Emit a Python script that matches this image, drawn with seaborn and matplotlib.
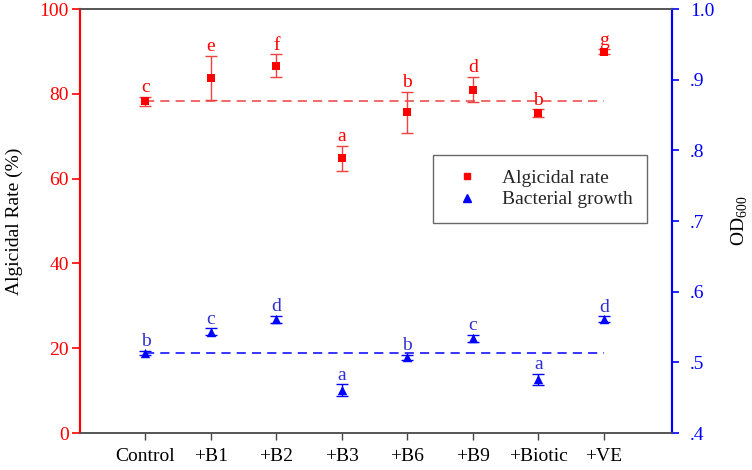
import numpy as np
import pandas as pd
import matplotlib
matplotlib.use("Agg")
import matplotlib.pyplot as plt
import seaborn as sns

# data
treatments = ["Control", "+B1", "+B2", "+B3", "+B6", "+B9", "+Biotic", "+VE"]
algicidal = [78.2, 83.7, 86.6, 64.8, 75.6, 81.0, 75.4, 89.9]
algicidal_err = [1.1, 5.2, 2.7, 2.9, 4.8, 3.0, 0.9, 0.6]
algicidal_letters = ["c", "e", "f", "a", "b", "d", "b", "g"]
od600 = [0.513, 0.543, 0.561, 0.461, 0.507, 0.534, 0.476, 0.561]
od600_err = [0.003, 0.005, 0.005, 0.008, 0.004, 0.005, 0.008, 0.004]
od600_letters = ["b", "c", "d", "a", "b", "c", "a", "d"]

RED = "#ff0000"
BLUE = "#0000ff"
FS = 14

sns.set_style("ticks")
plt.rcParams["font.family"] = ["Liberation Serif", "DejaVu Serif"]
plt.rcParams["font.size"] = FS
plt.rcParams["mathtext.fontset"] = "custom"
plt.rcParams["mathtext.rm"] = "Liberation Serif"

pos = np.arange(1, len(treatments) + 1)
df = pd.DataFrame({"x": pos, "rate": algicidal, "rate_err": algicidal_err,
                   "od": od600, "od_err": od600_err})

fig = plt.figure(figsize=(7.52, 4.7), dpi=100)
ax = fig.add_axes([80 / 752, 37 / 470, 592 / 752, 424 / 470])
ax2 = ax.twinx()

# algicidal rate (left axis)
ax.errorbar(df["x"], df["rate"], yerr=df["rate_err"], fmt="none",
            ecolor="#f04040", elinewidth=1, capsize=4.5, capthick=1, zorder=2)
sns.scatterplot(data=df, x="x", y="rate", ax=ax, marker="s", s=40,
                color=RED, edgecolor=RED, linewidth=0, zorder=3)
ax.hlines(algicidal[0], pos[0], pos[-1], colors="#f04040", linestyles=(0, (6, 4)),
          linewidth=1.1, zorder=1)
for x, y, e, t in zip(pos, algicidal, algicidal_err, algicidal_letters):
    ax.annotate(t, (x, y + e), xytext=(0, 0.5), textcoords="offset points",
                ha="center", va="bottom", color=RED, fontsize=FS)

# bacterial growth (right axis)
ax2.errorbar(df["x"], df["od"], yerr=df["od_err"], fmt="none",
             ecolor=BLUE, elinewidth=1, capsize=4.5, capthick=1, zorder=2)
sns.scatterplot(data=df, x="x", y="od", ax=ax2, marker="^", s=46,
                color=BLUE, edgecolor=BLUE, linewidth=0, zorder=3)
ax2.hlines(od600[0], pos[0], pos[-1], colors=BLUE, linestyles=(0, (6, 4)),
           linewidth=1.1, zorder=1)
for x, y, e, t in zip(pos, od600, od600_err, od600_letters):
    ax2.annotate(t, (x, y + e), xytext=(0, 0.5), textcoords="offset points",
                 ha="center", va="bottom", color="#3030d0", fontsize=FS)

# axes styling
ax.set_xlim(0, 9.04)
ax.set_ylim(0, 100)
ax2.set_ylim(0.4, 1.0)
ax.set_xticks(pos)
ax.set_xticklabels(treatments, fontsize=FS)
ax.set_yticks(np.arange(0, 101, 20))
ax.tick_params(axis="y", colors=RED, labelsize=FS, length=6, width=1.2, pad=2)
ax.tick_params(axis="x", colors="#444444", labelcolor="black", length=5, width=1, pad=6)
ax.set_xlabel("")
ax.set_ylabel("Algicidal Rate (%)", fontsize=FS, color="black", labelpad=12)

od_ticks = np.round(np.arange(0.4, 1.01, 0.1), 1)
ax2.set_yticks(od_ticks)
ax2.set_yticklabels([f"{v:.1f}" if v >= 1 else f"{v:.1f}"[1:] for v in od_ticks])
ax2.tick_params(axis="y", colors=BLUE, labelsize=FS, length=5, width=1.2, pad=8)
ax2.set_ylabel("OD$_{600}$", fontsize=FS, color="black", labelpad=11)

for a in (ax, ax2):
    a.spines["top"].set_visible(True)
    a.spines["top"].set_color("#555555")
    a.spines["bottom"].set_color("#555555")
    a.spines["left"].set_color(RED)
    a.spines["right"].set_color(BLUE)
    a.spines["left"].set_linewidth(1.5)
    a.spines["right"].set_linewidth(1.5)
    a.spines["top"].set_linewidth(1.2)
    a.spines["bottom"].set_linewidth(1.2)
    a.set_xlabel("")

# legend
handles = [
    plt.Line2D([], [], marker="s", color=RED, linestyle="none", markersize=5),
    plt.Line2D([], [], marker="^", color=BLUE, linestyle="none", markersize=5.5),
]
leg = ax2.legend(handles, ["Algicidal rate", "Bacterial growth"],
                 loc="upper left", bbox_to_anchor=(0.596, 0.656),
                 frameon=True, fancybox=False, edgecolor="#444444",
                 fontsize=FS, handletextpad=0.8, borderpad=0.75,
                 labelspacing=0.19, borderaxespad=0, handlelength=2.0)
leg.get_frame().set_linewidth(1)

fig.savefig("out.png", dpi=100)
